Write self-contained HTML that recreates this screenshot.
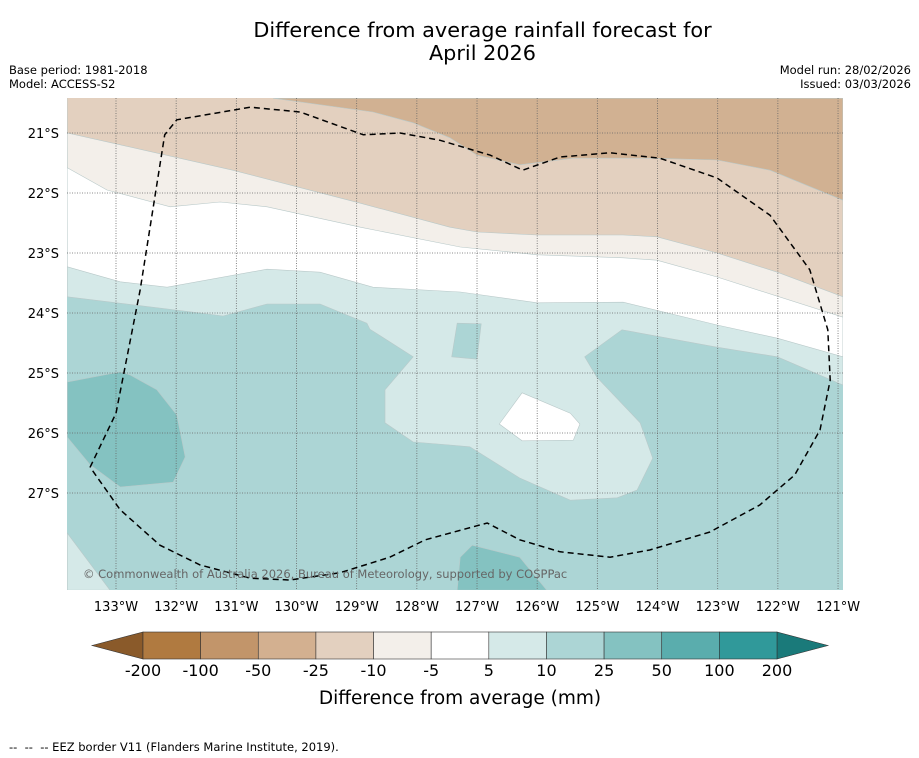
<!DOCTYPE html>
<html><head><meta charset="utf-8">
<style>
body{margin:0;background:#fff;font-family:"DejaVu Sans","Liberation Sans",sans-serif;}
#wrap{position:relative;width:919px;height:758px;overflow:hidden;}
.t{position:absolute;white-space:nowrap;color:#000;}
</style></head>
<body>
<div id="wrap">
<div class="t" style="left:0;width:965px;top:19px;text-align:center;font-size:20.8px;line-height:23px;">Difference from average rainfall forecast for<br>April 2026</div>
<div class="t" style="left:9px;top:63px;font-size:11.5px;line-height:14px;">Base period: 1981-2018<br>Model: ACCESS-S2</div>
<div class="t" style="right:8px;top:63px;font-size:11.5px;line-height:14px;text-align:right;">Model run: 28/02/2026<br>Issued: 03/03/2026</div>
<div class="t" style="left:9px;top:740px;font-size:11.5px;">-- &nbsp;-- &nbsp;-- EEZ border V11 (Flanders Marine Institute, 2019).</div>
<svg id="svg" width="919" height="758" style="position:absolute;left:0;top:0"></svg>
</div>
<script>
const lonTicks=[133,132,131,130,129,128,127,126,125,124,123,122,121];
const latTicks=[21,22,23,24,25,26,27];
const cbLabels=["-200","-100","-50","-25","-10","-5","5","10","25","50","100","200"];
const cbColors=["#b07a40","#c2956a","#d3b090","#e3d0bf","#f3efea","#ffffff","#d5e9e8","#acd5d5","#84c2c1","#5aadad","#30999a"];
const cbLow="#8a5a2a", cbHigh="#1a7a7a";
// polygons in [lonW, latS]
const darkBrown=[[130.39,20.42],[128.73,20.65],[128.06,20.83],[127.45,21.08],[127.0,21.37],[126.29,21.53],[125.40,21.42],[124.13,21.42],[123.01,21.45],[122.13,21.62],[120.92,22.12],[120.92,20.42]];
const lightBrownEdge=[[133.81,21.0],[133.05,21.17],[131.06,21.62],[128.94,22.17],[127.45,22.57],[127.0,22.65],[126.0,22.7],[124.57,22.7],[124.01,22.73],[123.01,23.0],[122.01,23.32],[120.92,23.73]];
const offWhiteEdge=[[133.81,21.58],[133.15,21.95],[132.10,22.23],[131.27,22.15],[130.49,22.23],[128.94,22.57],[127.28,22.9],[126.0,23.03],[124.57,23.08],[124.01,23.12],[123.01,23.4],[120.92,24.07]];
const whiteEdge=[[133.81,23.23],[132.93,23.48],[132.15,23.57],[130.49,23.27],[129.61,23.32],[128.73,23.57],[127.28,23.65],[126.0,23.83],[124.57,23.82],[123.01,24.2],[122.01,24.42],[120.92,24.73]];
const tealEdge=[[133.81,23.73],[131.60,24.0],[131.22,24.05],[130.49,23.85],[129.61,23.85],[128.83,24.17],[128.78,24.27],[128.06,24.73],[128.53,25.28],[128.53,25.83],[128.06,26.15],[127.45,26.2],[127.12,26.23],[126.29,26.75],[125.45,27.12],[124.67,27.08],[124.34,26.95],[124.08,26.42],[124.29,25.83],[125.01,25.07],[125.21,24.73],[124.59,24.28],[123.01,24.57],[122.01,24.73],[120.92,25.2]];
const tealPatch=[[127.33,24.17],[126.93,24.18],[127.0,24.77],[127.42,24.73]];
const whitePatch=[[126.25,25.33],[125.45,25.67],[125.29,25.85],[125.40,26.12],[126.25,26.13],[126.63,25.85]];
const midTealLeft=[[133.81,25.15],[132.93,24.98],[132.77,25.03],[132.32,25.28],[131.99,25.7],[131.85,26.4],[132.05,26.82],[132.93,26.9],[133.43,26.53],[133.81,26.07]];
const midTealBottom=[[127.28,28.07],[127.08,27.87],[126.29,28.07],[125.84,28.62],[127.33,28.62]];
const lightTealBL=[[133.81,27.67],[133.10,28.62],[133.81,28.62]];
const eez=[[133.43,26.57],[133.0,25.67],[132.60,23.62],[132.19,21.03],[131.99,20.78],[130.77,20.57],[129.94,20.65],[128.89,21.03],[128.28,21.0],[127.62,21.12],[126.78,21.37],[126.24,21.62],[125.62,21.4],[124.79,21.33],[123.96,21.42],[123.01,21.75],[122.13,22.37],[121.47,23.28],[121.17,24.28],[121.13,25.12],[121.30,25.95],[121.72,26.7],[122.30,27.2],[123.13,27.65],[124.13,27.95],[124.79,28.07],[125.62,27.98],[126.29,27.78],[126.83,27.5],[127.86,27.78],[128.45,28.07],[129.28,28.33],[130.11,28.45],[130.77,28.42],[131.60,28.2],[132.27,27.87],[132.93,27.28],[133.43,26.57]];

const FF='DejaVu Sans, Liberation Sans, sans-serif';
const NS="http://www.w3.org/2000/svg";
const svg=document.getElementById('svg');
const X0=67,X1=843,Y0=98,Y1=590;
const xS=l=>116+(133-l)*60.17;
const yS=l=>133+(l-21)*60;
function mk(t,a){const e=document.createElementNS(NS,t);for(const k in a)e.setAttribute(k,a[k]);svg.appendChild(e);return e;}
const clip=mk('clipPath',{id:'cp'});
const cr=document.createElementNS(NS,'rect');cr.setAttribute('x',X0);cr.setAttribute('y',Y0);cr.setAttribute('width',X1-X0);cr.setAttribute('height',Y1-Y0);clip.appendChild(cr);
const g=mk('g',{'clip-path':'url(#cp)'});
function poly(pts,fill,name,closeTop){
  let p=pts.map(d=>xS(d[0]).toFixed(1)+','+yS(d[1]).toFixed(1));
  if(closeTop){p.push(X1+','+(Y0-5));p.push(X0+','+(Y0-5));}
  const e=document.createElementNS(NS,'polygon');
  e.setAttribute('points',p.join(' '));e.setAttribute('fill',fill);
  e.setAttribute('stroke','#b9c9c9');e.setAttribute('stroke-width','0.6');
  
  
  g.appendChild(e);
}
const bg=document.createElementNS(NS,'rect');
bg.setAttribute('x',X0);bg.setAttribute('y',Y0);bg.setAttribute('width',X1-X0);bg.setAttribute('height',Y1-Y0);bg.setAttribute('fill','#acd5d5');


g.appendChild(bg);
poly(tealEdge,'#d5e9e8','region-5-10',true);
poly(whiteEdge,'#ffffff','region-neutral',true);
poly(offWhiteEdge,'#f3efea','region-minus10-5',true);
poly(lightBrownEdge,'#e3d0bf','region-minus25-10',true);
poly(darkBrown,'#d1b192','region-minus50-25',false);
poly(tealPatch,'#acd5d5','patch-10-25',false);
poly(whitePatch,'#ffffff','patch-neutral',false);
poly(midTealLeft,'#84c2c1','patch-25-50-west',false);
poly(midTealBottom,'#84c2c1','patch-25-50-south',false);
poly(lightTealBL,'#d5e9e8','patch-5-10-sw',false);
lonTicks.forEach(l=>{const e=document.createElementNS(NS,'line');e.setAttribute('x1',xS(l));e.setAttribute('x2',xS(l));e.setAttribute('y1',Y0);e.setAttribute('y2',Y1);e.setAttribute('stroke','#666');e.setAttribute('stroke-width','0.8');e.setAttribute('stroke-dasharray','1,1.5');


g.appendChild(e);});
latTicks.forEach(l=>{const e=document.createElementNS(NS,'line');e.setAttribute('y1',yS(l));e.setAttribute('y2',yS(l));e.setAttribute('x1',X0);e.setAttribute('x2',X1);e.setAttribute('stroke','#666');e.setAttribute('stroke-width','0.8');e.setAttribute('stroke-dasharray','1,1.5');


g.appendChild(e);});
const pl=document.createElementNS(NS,'polyline');
pl.setAttribute('points',eez.map(d=>xS(d[0]).toFixed(1)+','+yS(d[1]).toFixed(1)).join(' '));
pl.setAttribute('fill','none');pl.setAttribute('stroke','#000');pl.setAttribute('stroke-width','1.5');pl.setAttribute('stroke-dasharray','6,4');


g.appendChild(pl);
const cp=document.createElementNS(NS,'text');
cp.setAttribute('x',83);cp.setAttribute('y',578);cp.setAttribute('font-size','11.5');cp.setAttribute('fill','#666');cp.setAttribute('font-family',FF);
cp.textContent='© Commonwealth of Australia 2026, Bureau of Meteorology, supported by COSPPac';


g.appendChild(cp);
lonTicks.forEach(l=>{const t=mk('text',{x:xS(l),y:611,'text-anchor':'middle','font-size':'13','font-family':FF});t.textContent=l+'°W';

});
latTicks.forEach(l=>{const t=mk('text',{x:59,y:yS(l)+5,'text-anchor':'end','font-size':'13','font-family':FF});t.textContent=l+'°S';

});
const cbX0=143,cbX1=777,cbY=632,cbH=27,bw=(cbX1-cbX0)/cbColors.length;
const lt=mk('polygon',{points:`92,${cbY+cbH/2} ${cbX0},${cbY} ${cbX0},${cbY+cbH}`,fill:cbLow,stroke:'#333','stroke-width':'0.6'});


const rt=mk('polygon',{points:`828,${cbY+cbH/2} ${cbX1},${cbY} ${cbX1},${cbY+cbH}`,fill:cbHigh,stroke:'#333','stroke-width':'0.6'});


cbColors.forEach((c,i)=>{const r=mk('rect',{x:cbX0+i*bw,y:cbY,width:bw,height:cbH,fill:c,stroke:'#333','stroke-width':'0.6'});

});
cbLabels.forEach((s,i)=>{const t=mk('text',{x:cbX0+i*bw,y:676,'text-anchor':'middle','font-size':'16','font-family':FF});t.textContent=s;

});
const ct=mk('text',{x:460,y:704,'text-anchor':'middle','font-size':'18.5','font-family':FF});
ct.textContent='Difference from average (mm)';


</script>
</body></html>
